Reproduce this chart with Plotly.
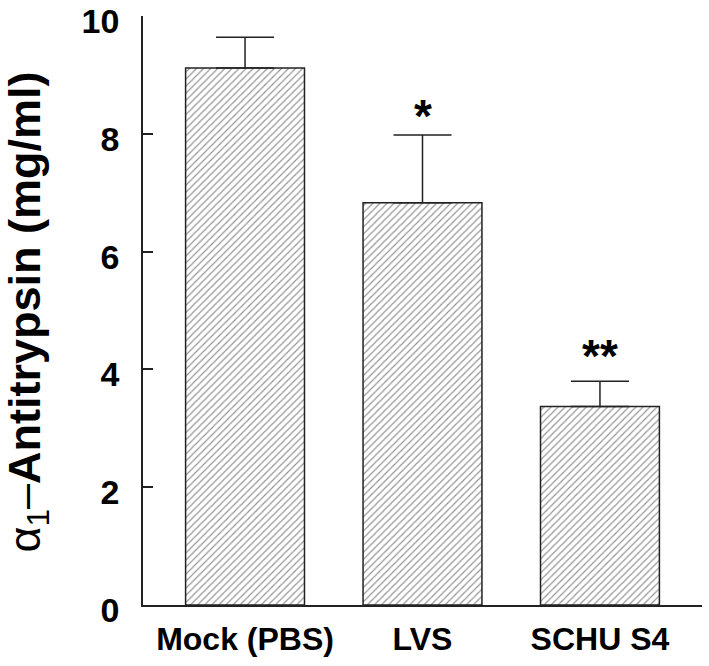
import plotly.graph_objects as go

categories = ["Mock (PBS)", "LVS", "SCHU S4"]
values = [9.12, 6.83, 3.37]
errors_up = [0.52, 1.15, 0.43]
significance = ["", "*", "**"]
sig_y = [None, 8.3, 4.23]
y_ticks = [0, 2, 4, 6, 8, 10]

FONT = "Liberation Sans, Arial, sans-serif"

fig = go.Figure()
fig.add_trace(go.Bar(
    x=list(range(len(categories))),
    y=values,
    width=0.67,
    marker=dict(
        color="white",
        line=dict(color="#222", width=1.5),
        pattern=dict(shape="/", fgcolor="#222", bgcolor="white", size=5, solidity=0.22),
    ),
    error_y=dict(
        type="data", symmetric=False, array=errors_up,
        arrayminus=[0] * len(values),
        color="#222", thickness=1.5, width=29,
    ),
    showlegend=False,
))

for i, (s, yv) in enumerate(zip(significance, sig_y)):
    if s:
        fig.add_annotation(x=i, y=yv, text="<b>" + s + "</b>", showarrow=False,
                           font=dict(family=FONT, size=46, color="black"),
                           xanchor="center", yanchor="middle")

fig.add_annotation(
    xref="paper", yref="paper", x=-0.207, y=0.497,
    text="α<sub>1</sub>–<b>Antitrypsin (mg/ml)</b>",
    textangle=-90, showarrow=False,
    font=dict(family=FONT, size=45, color="black"),
    xanchor="center", yanchor="middle",
)

fig.update_layout(
    width=709, height=666,
    margin=dict(l=143, r=7, t=16, b=61, autoexpand=False),
    plot_bgcolor="white", paper_bgcolor="white",
    xaxis=dict(
        range=[-0.575, 2.575], automargin=False,
        tickmode="array", tickvals=list(range(len(categories))),
        ticktext=["<b>%s</b>" % c for c in categories],
        showline=True, linecolor="#222", linewidth=1.5,
        ticks="", showgrid=False, zeroline=False,
        tickfont=dict(family=FONT, size=32, color="black"),
        ticklabelstandoff=5,
    ),
    yaxis=dict(
        range=[0, 10.001], automargin=False,
        tickmode="array", tickvals=y_ticks,
        ticktext=["<b>%d</b>" % t for t in y_ticks],
        showline=True, linecolor="#222", linewidth=1.5,
        ticks="inside", ticklen=10, tickwidth=1.5, tickcolor="#222",
        showgrid=False, zeroline=False,
        tickfont=dict(family=FONT, size=34, color="black"),
        ticklabelstandoff=15, ticklabelshift=5, ticklabeloverflow="allow",
    ),
)

fig.write_html("out.html", config={"displayModeBar": False},
               post_script="document.body.style.margin='0';")
